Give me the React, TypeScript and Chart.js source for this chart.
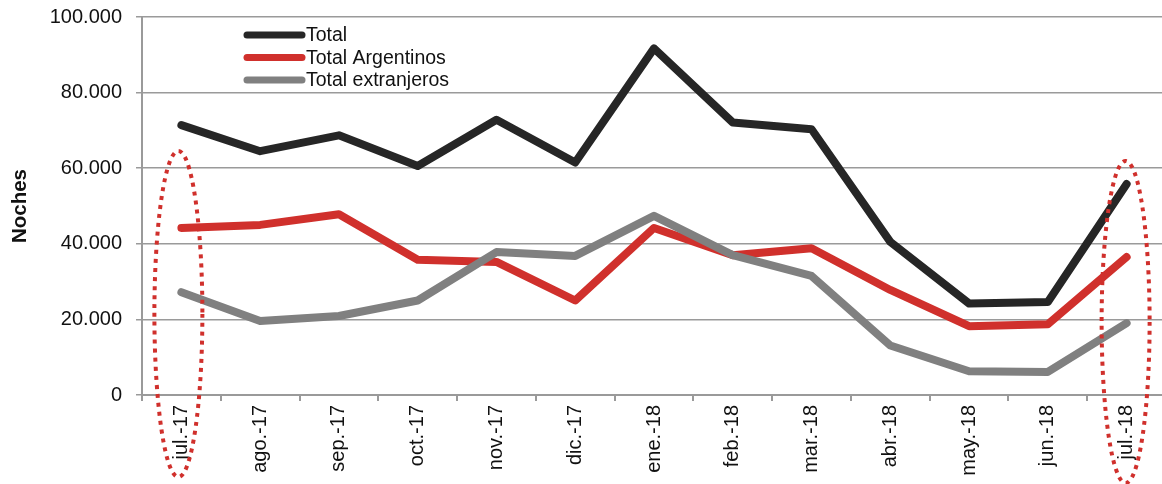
import React, { useEffect, useRef } from "react";
import { Chart, registerables } from "chart.js";

Chart.register(...registerables);

const categories = [
  "jul.-17", "ago.-17", "sep.-17", "oct.-17", "nov.-17", "dic.-17",
  "ene.-18", "feb.-18", "mar.-18", "abr.-18", "may.-18", "jun.-18", "jul.-18",
];

const total = [71400, 64500, 68700, 60600, 72800, 61500, 91700, 72100, 70300, 40500, 24200, 24600, 55800];
const totalArgentinos = [44200, 45000, 47800, 35800, 35200, 25000, 44200, 37000, 38800, 27800, 18200, 18700, 36500];
const totalExtranjeros = [27200, 19600, 20900, 25000, 37800, 36800, 47400, 37000, 31500, 13100, 6300, 6100, 19000];

const seriesLabels = ["Total", "Total Argentinos", "Total extranjeros"];
const seriesColors = ["#262626", "#d0302c", "#808080"];
const yTicks = [0, 20000, 40000, 60000, 80000, 100000];

const highlighted = [
  { index: 0, dx: -3, top: 151, bottom: 477 },
  { index: 12, dx: -1, top: 161, bottom: 483 },
];

const fmt = (v: number) =>
  v === 0 ? "0" : String(Math.round(v)).replace(/\B(?=(\d{3})+(?!\d))/g, ".");

const FONT = "'Liberation Sans', Arial, sans-serif";

const overlayPlugin = {
  id: "overlay",
  afterDraw(chart: any) {
    const ctx = chart.ctx;
    // legend
    ctx.save();
    const x0 = 247, x1 = 302;
    const rows = [35, 57.5, 80];
    chart.data.datasets.forEach((ds: any, i: number) => {
      const y = rows[i];
      ctx.strokeStyle = ds.borderColor;
      ctx.lineWidth = 7;
      ctx.lineCap = "round";
      ctx.beginPath();
      ctx.moveTo(x0, y);
      ctx.lineTo(x1, y);
      ctx.stroke();
      ctx.fillStyle = "#111";
      ctx.font = `19.5px ${FONT}`;
      ctx.textBaseline = "middle";
      ctx.textAlign = "left";
      ctx.fillText(ds.label, x1 + 4, y + 1);
    });
    ctx.restore();

    // dotted ellipses
    const xs = chart.scales.x;
    ctx.save();
    ctx.strokeStyle = "#d0302c";
    ctx.lineWidth = 4;
    ctx.setLineDash([4, 5]);
    highlighted.forEach((h) => {
      const cx = xs.getPixelForValue(h.index) + h.dx;
      const cy = (h.top + h.bottom) / 2;
      const ry = (h.bottom - h.top) / 2;
      ctx.beginPath();
      ctx.ellipse(cx, cy, 24, ry, 0, 0, Math.PI * 2);
      ctx.stroke();
    });
    ctx.restore();
  },
};

export default function App() {
  const ref = useRef<HTMLCanvasElement>(null);

  useEffect(() => {
    document.body.style.overflow = "hidden";
    document.documentElement.style.overflow = "hidden";
    const datasets = [total, totalArgentinos, totalExtranjeros].map((d, i) => ({
      label: seriesLabels[i],
      data: d,
      borderColor: seriesColors[i],
      backgroundColor: seriesColors[i],
      borderWidth: 8,
      pointRadius: 0,
      tension: 0,
      borderCapStyle: "round" as const,
      borderJoinStyle: "round" as const,
      order: 3 - i,
    }));
    const chart = new Chart(ref.current!, {
      type: "line",
      data: { labels: categories, datasets },
      options: {
        responsive: false,
        animation: false,
        layout: { padding: { top: 17, right: 4, left: 0, bottom: 0 } },
        plugins: { legend: { display: false }, tooltip: { enabled: false } },
        scales: {
          x: {
            offset: true,
            grid: {
              offset: true,
              drawOnChartArea: false,
              drawTicks: true,
              tickLength: 6,
              color: "#9a9a9a",
              lineWidth: 2,
            },
            border: { color: "#9a9a9a", width: 2 },
            ticks: {
              minRotation: 90,
              maxRotation: 90,
              autoSkip: false,
              padding: 4,
              color: "#111",
              font: { family: FONT, size: 20 },
            },
            afterFit(scale: any) {
              scale.height = 89;
              scale.paddingLeft = 0;
              scale.paddingRight = 0;
            },
          },
          y: {
            min: 0,
            max: 100000,
            afterBuildTicks(scale: any) {
              scale.ticks = yTicks.map((v) => ({ value: v }));
            },
            grid: {
              color: "#9a9a9a",
              lineWidth: 1.5,
              drawTicks: true,
              tickLength: 6,
            },
            border: { color: "#9a9a9a", width: 2 },
            ticks: {
              padding: 14,
              color: "#111",
              font: { family: FONT, size: 20 },
              callback: (v: any) => fmt(Number(v)),
            },
            title: {
              display: true,
              text: "Noches",
              color: "#111",
              font: { family: FONT, size: 20.5, weight: "bold" },
              padding: { top: 8, bottom: 0 },
            },
            afterFit(scale: any) {
              scale.width = 142;
              scale.paddingTop = 0;
              scale.paddingBottom = 0;
            },
          },
        },
      },
      plugins: [overlayPlugin],
    });
    return () => chart.destroy();
  }, []);

  return (
    <div style={{ position: "absolute", left: 0, top: 0, width: 1170, height: 484, background: "#fff" }}>
      <canvas ref={ref} width={1170} height={484} />
    </div>
  );
}
